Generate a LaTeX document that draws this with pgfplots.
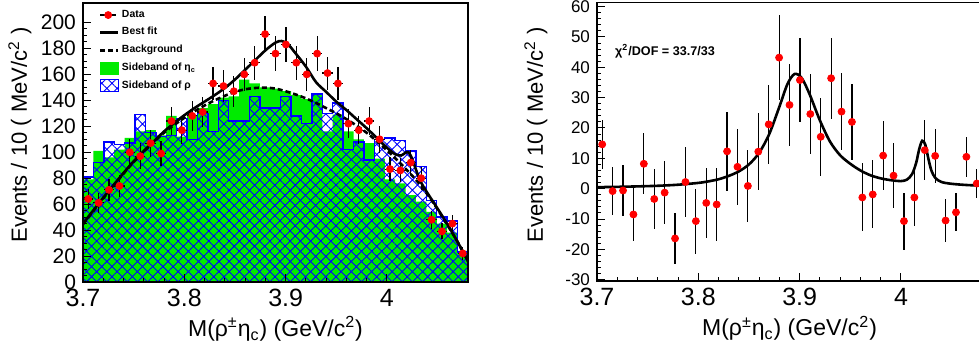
\documentclass[border=0pt]{standalone}
\usepackage{fontspec}
\setmainfont{Liberation Sans}
\usepackage{pgfplots}
\pgfplotsset{compat=1.18}
\usepackage{pgfplotstable}
\usetikzlibrary{patterns.meta}
\definecolor{rootgreen}{RGB}{0,235,0}

\pgfplotstableread{
e g b
3.70000 79 81
3.71027 101 92
3.72054 96 108
3.73081 102 106
3.74108 111 107
3.75135 116 129
3.76162 117 115
3.77189 113 112
3.78216 128 113
3.79243 112 126
3.80270 128 110
3.81297 134 130
3.82324 137 116
3.83351 142 140
3.84378 143 124
3.85405 156 124
3.86432 153 143
3.87459 150 134
3.88486 149 134
3.89514 147 143
3.90541 144 128
3.91568 141 122
3.92595 145 145
3.93622 116 130
3.94649 129 138
3.95676 116 102
3.96703 110 108
3.97730 107 94
3.98757 95 110
3.99784 79 111
4.00811 76 109
4.01838 67 101
4.02865 62 89
4.03892 54 63
4.04919 45 50
4.05946 38 47
4.06973 24 23
4.08000 24 23
}\hist

\pgfplotstableread{
x y ey
3.70514 64 8.0
3.71541 61 7.8
3.72568 71 8.4
3.73595 74 8.6
3.74622 100 10.0
3.75649 97 9.8
3.76676 107 10.3
3.77703 99 9.9
3.78730 124 11.1
3.79757 117 10.8
3.80784 128 11.3
3.81811 131 11.4
3.82838 153 12.4
3.83865 151 12.3
3.84892 147 12.1
3.85919 160 12.6
3.86946 169 13.0
3.87973 191 13.8
3.89000 176 13.3
3.90027 183 13.5
3.91054 169 13.0
3.92081 160 12.6
3.93108 176 13.3
3.94135 161 12.7
3.95162 153 12.4
3.96189 122 11.0
3.97216 117 10.8
3.98243 124 11.1
3.99270 110 10.5
4.00297 87 9.3
4.01324 86 9.3
4.02351 92 9.6
4.03378 80 8.9
4.04405 48 6.9
4.05432 39 6.2
4.06459 45 6.7
4.07486 22 4.7
}\ldata

\pgfplotstableread{
x y ey
3.70514 14.6 8
3.71541 -0.8 8
3.72568 -0.6 8.5
3.73595 -8.5 8.6
3.74622 8.2 10
3.75649 -3.4 10
3.76676 -1.3 10.5
3.77703 -16.4 8.5
3.78730 2.2 11.4
3.79757 -10.7 10.7
3.80784 -4.7 11.5
3.81811 -5.2 12
3.82838 12.3 13
3.83865 7.2 12.5
3.84892 0.9 12
3.85919 12.2 12.8
3.86946 21.2 13
3.87973 43.2 14
3.89000 27.6 13.5
3.90027 35.8 13.8
3.91054 24.6 13.2
3.92081 17.1 12.8
3.93108 36.4 13.4
3.94135 25.4 12.8
3.95162 22 12.5
3.96189 -2.9 11.2
3.97216 -1.9 11.2
3.98243 10.9 11.3
3.99270 4.3 10.6
4.00297 -10.7 9.4
4.01324 -2.9 9.5
4.02351 12.7 9.8
4.03378 10.8 9
4.04405 -10.5 7
4.05432 -7.8 6.3
4.06459 10.5 6.6
4.07486 1.7 4.8
}\rdata

\pgfplotsset{
  rootaxis/.style={
    scale only axis, width=192.5pt,
    xmin=3.7, xmax=4.08,
    xtick={3.7,3.8,3.9,4},
    minor x tick num=4,
    tick align=inside, xtick pos=left, ytick pos=left,
    major tick length=4pt, minor tick length=2pt,
    tick style={black, line width=0.5pt},
    axis line style={line width=0.7pt},
    /pgf/number format/assume math mode=true,
    xticklabel style={font=\fontsize{12.5}{14}\selectfont},
    xlabel={M(ρ\textsuperscript{±}η\textsubscript{c}) (GeV/c\textsuperscript{2})},
    ylabel={Events / 10 ( MeV/c\textsuperscript{2} )},
    xlabel style={font=\fontsize{11.5}{13}\selectfont, inner sep=0pt,
      at={(axis description cs:0.5,0)}, anchor=base, yshift=-27.3pt},
    ylabel style={font=\fontsize{11}{13}\selectfont, inner sep=0pt},
    axis on top,
  }
}

\begin{document}
\begin{tikzpicture}
\useasboundingbox (0,0) rectangle (489.5pt,174pt);

\begin{axis}[rootaxis,
  at={(41.5pt,33pt)}, anchor=south west, height=139.5pt,
  ymin=0, ymax=215, ytick={0,20,...,200}, minor y tick num=3,
  yticklabel style={font=\fontsize{10.5}{12}\selectfont},
  ylabel style={at={(axis description cs:-0.1455,0.914)}, anchor=base east},
  legend style={at={(axis description cs:0.04,0.985)}, anchor=north west,
    draw=none, fill=none, font=\bfseries\fontsize{5.2}{6}\selectfont,
    row sep=1.2pt, inner sep=0pt, nodes={inner sep=1.2pt}},
  legend cell align=left,
]
\addlegendimage{legend image code/.code={
  \draw[black,line width=0.8pt] (0pt,0pt) -- (8pt,0pt);
  \fill[red] (4pt,0pt) circle (1.75pt);}}
\addlegendentry{Data}
\addlegendimage{legend image code/.code={
  \draw[black,line width=1.4pt] (0pt,0pt) -- (9pt,0pt);}}
\addlegendentry{Best fit}
\addlegendimage{legend image code/.code={
  \draw[black,line width=1.4pt, dash pattern=on 2.5pt off 1.5pt] (0pt,0pt) -- (9pt,0pt);}}
\addlegendentry{Background}
\addlegendimage{legend image code/.code={
  \fill[rootgreen] (0pt,-3pt) rectangle (9.3pt,3pt);}}
\addlegendentry{Sideband of η\textsubscript{c}}
\addlegendimage{legend image code/.code={
  \draw[blue,line width=0.6pt, pattern={Hatch[angle=45,distance=3.6pt,line width=0.45pt]}, pattern color=blue] (0pt,-3pt) rectangle (9.3pt,3pt);}}
\addlegendentry{Sideband of ρ}

\addplot[const plot mark left, fill=rootgreen, draw=none, forget plot]
  table[x=e,y=g]{\hist} \closedcycle;
\addplot[const plot mark left, draw=blue, line width=0.7pt,
  pattern={Hatch[angle=45,distance=3.6pt,line width=0.45pt]}, pattern color=blue, forget plot]
  table[x=e,y=b]{\hist} \closedcycle;

\addplot[black, line width=1.3pt, dash pattern=on 2.5pt off 1.5pt, smooth, forget plot] coordinates {
(3.700,44.5) (3.710,54.5) (3.720,64.5) (3.730,74) (3.740,83.5) (3.750,92.5)
(3.760,100.5) (3.770,108) (3.780,115) (3.790,121) (3.800,126.5) (3.810,131.5)
(3.820,136) (3.830,140) (3.840,143.5) (3.850,146.5) (3.860,148.5) (3.870,149.5)
(3.880,149.8) (3.890,149) (3.900,147) (3.910,144.5) (3.920,141.5) (3.930,138)
(3.940,134) (3.950,130) (3.960,125.5) (3.970,120.5) (3.980,115) (3.990,108.5)
(4.000,101.5) (4.010,94) (4.020,86) (4.030,77.5) (4.040,67.5) (4.050,56)
(4.060,43.5) (4.070,30.5) (4.080,16)};

\addplot[black, line width=1.3pt, smooth, forget plot] coordinates {
(3.700,45) (3.710,55) (3.720,65) (3.730,74.5) (3.740,84) (3.750,93)
(3.760,101) (3.770,108.5) (3.780,116) (3.790,122.5) (3.800,128.5) (3.810,134)
(3.820,139) (3.830,144) (3.840,149.5) (3.850,156) (3.860,163.5) (3.870,171)
(3.880,178.5) (3.890,184.5) (3.896,185.7) (3.902,183.5) (3.910,176) (3.920,166)
(3.930,154) (3.940,146.5) (3.950,139) (3.960,132.5) (3.970,125.5) (3.980,118.5)
(3.990,111) (4.000,103.5) (4.008,98.5) (4.014,97.5) (4.018,99.5) (4.021,100)
(4.024,96.5) (4.028,88) (4.032,79.5) (4.036,73.5) (4.040,68.5) (4.050,56.5)
(4.060,44) (4.070,30.5) (4.080,16)};

\addplot[only marks, mark=*, mark size=1.75pt, mark options={fill=red, draw=red}, forget plot,
  error bars/.cd, y dir=both, y explicit, x dir=both, x fixed=0.005135,
  error bar style={black, line width=0.6pt}, error mark=none]
  table[x=x,y=y,y error=ey]{\ldata};
\end{axis}

\begin{axis}[rootaxis,
  at={(298.5pt,33.4pt)}, anchor=south west, height=139.25pt,
  ymin=-30.5, ymax=61.3, ytick={-30,-20,...,60}, minor y tick num=4,
  yticklabel style={font=\fontsize{8.5}{10}\selectfont},
  ylabel style={at={(axis description cs:-0.1403,0.913)}, anchor=base east},
]
\addplot[black, line width=1.3pt, smooth] coordinates {
(3.700,0.5) (3.720,0.6) (3.740,0.75) (3.760,0.95) (3.780,1.3) (3.800,1.9)
(3.810,2.4) (3.820,3.1) (3.830,4.2) (3.840,5.7) (3.850,8) (3.860,11.8)
(3.870,18) (3.880,27) (3.888,34.5) (3.895,37.8) (3.902,36.5) (3.910,31)
(3.920,22.5) (3.930,15.5) (3.940,11) (3.950,8.2) (3.960,6) (3.970,4.4)
(3.980,3.4) (3.990,2.8) (4.000,2.5) (4.006,3) (4.011,4.8) (4.015,8.5)
(4.018,13) (4.021,15.8) (4.024,14.5) (4.027,10) (4.030,6) (4.034,3.5)
(4.040,2.2) (4.050,1.6) (4.065,1.2) (4.080,1.0)};
\addplot[only marks, mark=*, mark size=1.75pt, mark options={fill=red, draw=red},
  error bars/.cd, y dir=both, y explicit,
  error bar style={black, line width=0.6pt}, error mark=none]
  table[x=x,y=y,y error=ey]{\rdata};
\node[anchor=west, font=\bfseries\fontsize{6.3}{7}\selectfont] at (axis cs:3.711,45.2)
  {χ\textsuperscript{2}/DOF = 33.7/33};
\end{axis}
\end{tikzpicture}
\end{document}
